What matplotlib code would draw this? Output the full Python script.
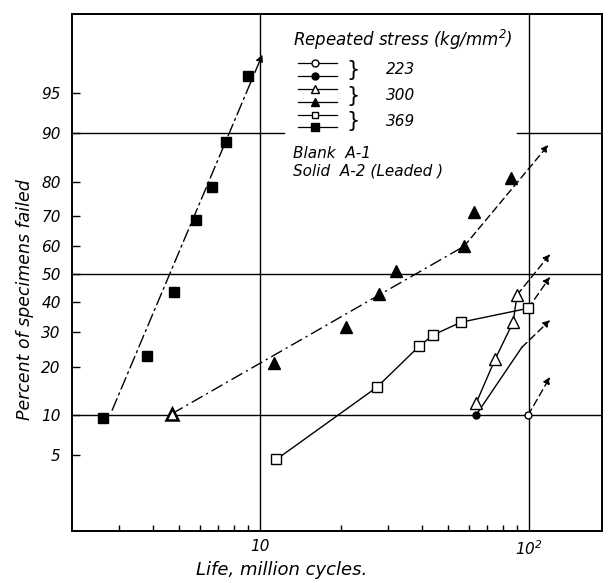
import math
import numpy as np
import matplotlib
matplotlib.use('Agg')
import matplotlib.pyplot as plt
from matplotlib.ticker import FixedLocator, NullLocator, NullFormatter

# life in million cycles, percent failed
# 369 kg/mm2, solid (A-2 leaded)
sq_solid_x = [2.6, 3.8, 4.8, 5.8, 6.6, 7.5, 9.0]
sq_solid_p = [9.6, 22.8, 43.5, 69.0, 78.5, 88.5, 96.4]
sq_solid_fit_x = [2.82, 10.2]
sq_solid_fit_p = [10.8, 97.7]

# 300 kg/mm2, solid (A-2 leaded)
tri_solid_x = [11.3, 20.9, 27.7, 32.1, 57.3, 62.5, 85.7]
tri_solid_p = [20.9, 31.5, 42.8, 51.0, 60.0, 71.4, 81.0]
tri_first_x = [4.7]
tri_first_p = [10.2]
tri_solid_fit_x = [4.7, 57.3]
tri_solid_fit_p = [10.2, 60.0]
tri_solid_arrow_x = [57.3, 118.0]
tri_solid_arrow_p = [60.0, 88.0]

# 369 kg/mm2, blank (A-1)
sq_open_x = [11.5, 27.2, 39.0, 44.0, 55.8, 99.2]
sq_open_p = [4.6, 15.2, 25.6, 29.0, 33.1, 37.8]
sq_open_arrow_x = [99.2, 119.7]
sq_open_arrow_p = [37.8, 49.0]

# 300 kg/mm2, blank (A-1)
tri_open_x = [63.5, 74.8, 87.2, 90.2]
tri_open_p = [12.0, 22.0, 33.1, 42.5]
tri_open_arrow_x = [90.2, 119.7]
tri_open_arrow_p = [42.5, 57.2]

# 223 kg/mm2
dot_solid_x = [63.5]
dot_solid_p = [10.0]
dot_solid_line_x = [63.5, 94.0]
dot_solid_line_p = [10.0, 25.3]
dot_solid_arrow_x = [94.0, 119.7]
dot_solid_arrow_p = [25.3, 33.8]
dot_open_x = [99.2]
dot_open_p = [10.0]
dot_open_arrow_x = [99.2, 119.7]
dot_open_arrow_p = [10.0, 17.5]

y_ticks = [5, 10, 20, 30, 40, 50, 60, 70, 80, 90, 95]
x_minor = [3, 4, 5, 6, 7, 8, 9, 20, 30, 40, 50, 60, 70, 80, 90]


# normal probability scale
A = [-3.969683028665376e+01, 2.209460984245205e+02, -2.759285104469687e+02,
     1.383577518672690e+02, -3.066479806614716e+01, 2.506628277459239e+00]
B = [-5.447609879822406e+01, 1.615858368580409e+02, -1.556989798598866e+02,
     6.680131188771972e+01, -1.328068155288572e+01]
C = [-7.784894002430293e-03, -3.223964580411365e-01, -2.400758277161838e+00,
     -2.549732539343734e+00, 4.374664141464968e+00, 2.938163982698783e+00]
D = [7.784695709041462e-03, 3.224671290700398e-01, 2.445134137142996e+00,
     3.754408661907416e+00]


def _ppf(q):
    if q < 0.02425:
        t = math.sqrt(-2 * math.log(q))
        return (((((C[0]*t+C[1])*t+C[2])*t+C[3])*t+C[4])*t+C[5]) / \
               ((((D[0]*t+D[1])*t+D[2])*t+D[3])*t+1)
    if q > 1 - 0.02425:
        return -_ppf(1 - q)
    r = q - 0.5
    s = r * r
    return (((((A[0]*s+A[1])*s+A[2])*s+A[3])*s+A[4])*s+A[5])*r / \
           (((((B[0]*s+B[1])*s+B[2])*s+B[3])*s+B[4])*s+1)


ppf_v = np.vectorize(_ppf, otypes=[float])
erf_v = np.vectorize(math.erf, otypes=[float])


def forward(pct):
    q = np.clip(np.asarray(pct, float) / 100.0, 1e-9, 1 - 1e-9)
    return ppf_v(q)


def inverse(z):
    z = np.asarray(z, float)
    return 50.0 * (1.0 + erf_v(z / math.sqrt(2)))


plt.rcParams['font.family'] = 'DejaVu Sans'
plt.rcParams['font.style'] = 'italic'

fig = plt.figure(figsize=(6.08, 5.83), dpi=100)
ax = fig.add_axes([72/608, 52/583, 530/608, 517/583])
ax.set_xscale('log')
ax.set_yscale('function', functions=(forward, inverse))
ax.set_xlim(2.0, 186.6)
ax.set_ylim(0.975, 99.1)

for s in ax.spines.values():
    s.set_linewidth(1.4)

ax.yaxis.set_major_locator(FixedLocator(y_ticks))
ax.set_yticklabels([str(v) for v in y_ticks])
ax.yaxis.set_minor_locator(NullLocator())
ax.tick_params(axis='y', which='major', direction='in', length=6, width=1,
               labelsize=11, pad=8, right=False)

ax.xaxis.set_major_locator(FixedLocator([10, 100]))
ax.set_xticklabels(['10', '10$^{2}$'])
ax.xaxis.set_minor_locator(FixedLocator(x_minor))
ax.xaxis.set_minor_formatter(NullFormatter())
ax.tick_params(axis='x', which='major', length=0, labelsize=11, pad=6)
ax.tick_params(axis='x', which='minor', direction='in', length=4, width=1,
               top=False)

# grid lines
ax.axhline(10, color='k', lw=1)
ax.axhline(50, color='k', lw=1)
ax.axhline(90, xmin=0, xmax=0.40, color='k', lw=1)
ax.axhline(90, xmin=0.84, xmax=1, color='k', lw=1)
ax.axvline(10, color='k', lw=1)
ax.axvline(100, color='k', lw=1)

dashdot = (0, (9, 3, 1.5, 3))
dashed = (0, (5, 3))


def arrow(xs, ps, ls):
    ax.annotate('', xy=(xs[1], ps[1]), xytext=(xs[0], ps[0]),
                arrowprops=dict(arrowstyle='-|>', color='k', lw=1, linestyle=ls,
                                shrinkA=0, shrinkB=0, mutation_scale=10))


# 369 solid
arrow(sq_solid_fit_x, sq_solid_fit_p, dashdot)
ax.plot(sq_solid_x, sq_solid_p, 's', color='k', ms=7, zorder=5)

# 300 solid
ax.plot(tri_solid_fit_x, tri_solid_fit_p, color='k', lw=1, linestyle=dashdot)
arrow(tri_solid_arrow_x, tri_solid_arrow_p, dashed)
ax.plot(tri_solid_x, tri_solid_p, '^', color='k', ms=8, zorder=5)
ax.plot(tri_first_x, tri_first_p, '^', mfc='white', mec='k', mew=1.8, ms=8, zorder=5)

# 369 blank
ax.plot(sq_open_x, sq_open_p, '-s', color='k', lw=1, mfc='white', mec='k', ms=6.5, zorder=5)
arrow(sq_open_arrow_x, sq_open_arrow_p, dashed)

# 300 blank
ax.plot(tri_open_x, tri_open_p, '-^', color='k', lw=1, mfc='white', mec='k', ms=8, zorder=5)
arrow(tri_open_arrow_x, tri_open_arrow_p, dashed)

# 223
ax.plot(dot_solid_line_x, dot_solid_line_p, color='k', lw=1)
arrow(dot_solid_arrow_x, dot_solid_arrow_p, dashed)
ax.plot(dot_solid_x, dot_solid_p, 'o', color='k', ms=5, zorder=6)
ax.plot(dot_open_x, dot_open_p, 'o', mfc='white', mec='k', ms=5, zorder=6)
arrow(dot_open_arrow_x, dot_open_arrow_p, dashed)


# legend drawn by hand (pixel positions -> axes fraction)
def fx(px):
    return (px - 72) / 530


def fy(py):
    return (531 - py) / 517


tr = ax.transAxes
ax.text(fx(293), fy(40), 'Repeated stress (kg/mm$^{2}$)', transform=tr,
        fontsize=12, va='center', ha='left')
rows = [63, 76, 89, 102, 115, 127]
marks = [('o', 'white', 5), ('o', 'k', 5), ('^', 'white', 6),
         ('^', 'k', 6), ('s', 'white', 5), ('s', 'k', 5.5)]
for row, (m, fc, ms) in zip(rows, marks):
    ax.plot([fx(298), fx(337)], [fy(row), fy(row)], color='k', lw=0.9,
            transform=tr, clip_on=False)
    ax.plot([fx(315)], [fy(row)], m, mfc=fc, mec='k', ms=ms, transform=tr,
            clip_on=False)
for yc, lab in zip([70, 96, 121], ['223', '300', '369']):
    ax.text(fx(353), fy(yc), '}', transform=tr, fontsize=15, va='center',
            ha='center', fontstyle='normal')
    ax.text(fx(386), fy(yc), lab, transform=tr, fontsize=11, va='center',
            ha='left')
ax.text(fx(293), fy(153), 'Blank  A-1', transform=tr, fontsize=11,
        va='center', ha='left')
ax.text(fx(293), fy(171), 'Solid  A-2 (Leaded )', transform=tr, fontsize=11,
        va='center', ha='left')

fig.text(25/608, 1 - 300/583, 'Percent of specimens failed', rotation=90,
         fontsize=12.5, va='center', ha='center')
fig.text(282/608, 1 - 570/583, 'Life, million cycles.', fontsize=13,
         va='center', ha='center')

fig.savefig('out.png', dpi=100)
